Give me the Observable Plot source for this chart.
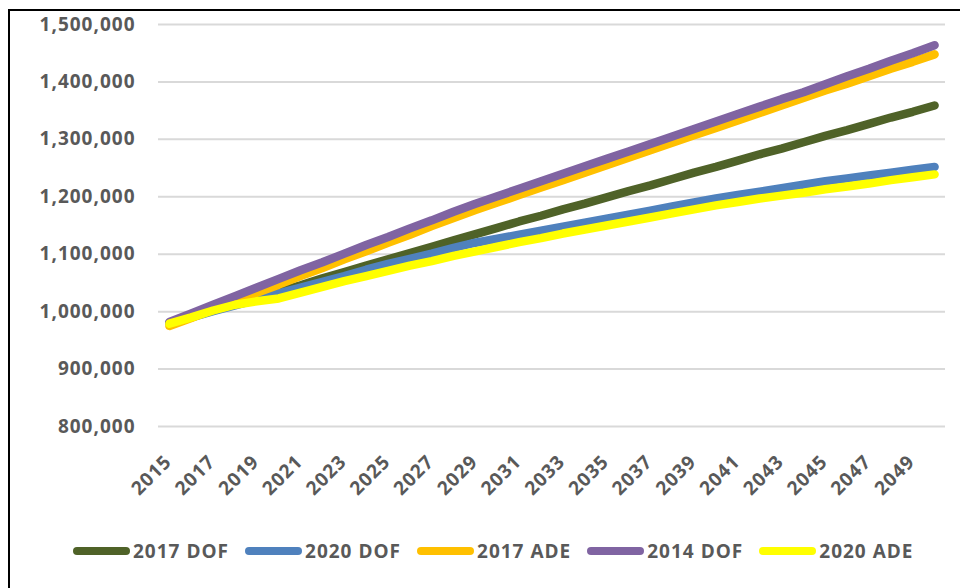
<!DOCTYPE html>
<html>
<head>
<meta charset="utf-8">
<script src="https://cdn.jsdelivr.net/npm/d3@7"></script>
<script src="https://cdn.jsdelivr.net/npm/@observablehq/plot@0.6"></script>
<style>
  html, body { margin: 0; padding: 0; background: #fff; width: 960px; height: 588px; overflow: hidden; }
  #frame { position: absolute; left: 8px; top: 9px; width: 1000px; height: 1000px; border: 2px solid #000; box-sizing: border-box; pointer-events: none; }
  #chart { position: absolute; left: 0; top: 0; }
  #legend { position: absolute; left: 73px; top: 538px; display: flex; align-items: center;
    font-family: "Open Sans", sans-serif; font-weight: bold; font-size: 19px; letter-spacing: 1px; color: #595959; }
  .item { display: flex; align-items: center; margin-right: 16px; }
  .sw { width: 57px; height: 8px; border-radius: 4px; margin-right: 3px; }
</style>
</head>
<body>
<div id="chart"></div>
<div id="legend"></div>
<div id="frame"></div>
<script>
const years = [2015,2016,2017,2018,2019,2020,2021,2022,2023,2024,2025,2026,2027,2028,2029,2030,2031,2032,2033,2034,2035,2036,2037,2038,2039,2040,2041,2042,2043,2044,2045,2046,2047,2048,2049,2050];

const dof2017 = [980000,991000,1002000,1013000,1024000,1035000,1046000,1058000,1069000,1080000,1091000,1102000,1113000,1124000,1135000,1146000,1157000,1167000,1178000,1188000,1199000,1210000,1220000,1231000,1242000,1252000,1263000,1274000,1284000,1295000,1306000,1316000,1327000,1338000,1348000,1359000];
const dof2020 = [980000,990000,1001000,1011000,1021000,1032000,1042000,1052000,1062000,1073000,1083000,1092000,1101000,1111000,1120000,1127000,1134000,1141000,1148000,1155000,1162000,1169000,1176000,1183000,1190000,1197000,1203000,1209000,1215000,1221000,1227000,1232000,1237000,1242000,1247000,1252000];
const ade2017 = [975000,989000,1004000,1018000,1033000,1047000,1062000,1076000,1091000,1105000,1120000,1134000,1149000,1163000,1177000,1190000,1203000,1216000,1229000,1242000,1255000,1268000,1281000,1294000,1307000,1320000,1333000,1346000,1359000,1372000,1385000,1397000,1410000,1423000,1435000,1448000];
const dof2014 = [982000,997000,1012000,1027000,1042000,1057000,1072000,1086000,1101000,1116000,1130000,1145000,1159000,1174000,1188000,1201000,1214000,1227000,1240000,1253000,1266000,1279000,1292000,1305000,1318000,1331000,1344000,1357000,1370000,1382000,1396000,1410000,1423000,1437000,1450000,1464000];
const ade2020 = [979000,990000,1002000,1012000,1018000,1023000,1033000,1043000,1053000,1062000,1071000,1080000,1088000,1097000,1105000,1113000,1121000,1128000,1136000,1143000,1150000,1157000,1164000,1171000,1178000,1185000,1191000,1197000,1202000,1207000,1213000,1218000,1223000,1229000,1234000,1239000];

const seriesNames = ["2017 DOF", "2020 DOF", "2017 ADE", "2014 DOF", "2020 ADE"];
const seriesColors = ["#4F6228", "#4F81BD", "#FFC000", "#8064A2", "#FFFF00"];
const seriesValues = [dof2017, dof2020, ade2017, dof2014, ade2020];

const xTickLabels = ["2015","2017","2019","2021","2023","2025","2027","2029","2031","2033","2035","2037","2039","2041","2043","2045","2047","2049"];
const yTicks = [800000, 900000, 1000000, 1100000, 1200000, 1300000, 1400000, 1500000];

const lineMarks = seriesValues.map((vals, i) => {
  const rows = years.map((yr, j) => ({year: yr, value: vals[j]}));
  return Plot.line(rows, {
    x: "year", y: "value",
    stroke: seriesColors[i], strokeWidth: 8.5,
    strokeLinecap: "round", strokeLinejoin: "round"
  });
});

const chart = Plot.plot({
  width: 960,
  height: 530,
  marginLeft: 158,
  marginRight: 15,
  marginTop: 24,
  marginBottom: 104,
  style: {fontFamily: "'Open Sans', sans-serif", fontSize: "19px", fontWeight: "bold", color: "#595959", background: "transparent", letterSpacing: "1px"},
  x: {type: "point", domain: years, padding: 0.5, axis: null},
  y: {domain: [800000, 1500000], ticks: yTicks, tickFormat: d3.format(","), tickSize: 0, tickPadding: 23, label: null},
  marks: [
    Plot.ruleY(yTicks, {stroke: "#d9d9d9", strokeWidth: 2}),
    ...lineMarks,
    Plot.text(xTickLabels, {x: d => Number(d), text: d => d, frameAnchor: "bottom", rotate: -45, textAnchor: "end", lineAnchor: "middle", dy: 32, dx: -1, fill: "#595959"})
  ]
});
document.getElementById("chart").appendChild(chart);

const legend = document.getElementById("legend");
seriesNames.forEach((name, i) => {
  const item = document.createElement("div");
  item.className = "item";
  const sw = document.createElement("div");
  sw.className = "sw";
  sw.style.background = seriesColors[i];
  const t = document.createElement("span");
  t.textContent = name;
  item.appendChild(sw);
  item.appendChild(t);
  legend.appendChild(item);
});
</script>
</body>
</html>
